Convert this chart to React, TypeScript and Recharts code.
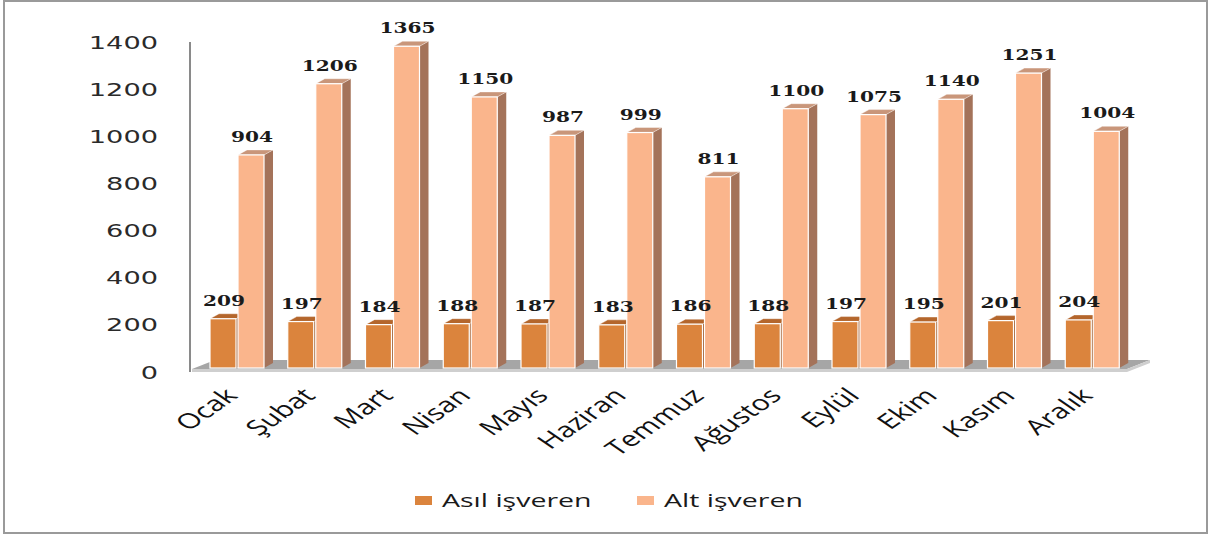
import React from 'react';
import * as R from 'recharts';
import { BarChart, Bar, XAxis, YAxis, LabelList, Legend, Customized } from 'recharts';

// Monthly worker counts by employer type
const months = ['Ocak', 'Şubat', 'Mart', 'Nisan', 'Mayıs', 'Haziran', 'Temmuz', 'Ağustos', 'Eylül', 'Ekim', 'Kasım', 'Aralık'];
const asilIsveren = [209, 197, 184, 188, 187, 183, 186, 188, 197, 195, 201, 204];
const altIsveren = [904, 1206, 1365, 1150, 987, 999, 811, 1100, 1075, 1140, 1251, 1004];
const yTicks = [0, 200, 400, 600, 800, 1000, 1200, 1400];
const seriesNames = ['Asıl işveren', 'Alt işveren'];

const data = months.map((m, i) => ({ month: m, asil: asilIsveren[i], alt: altIsveren[i] }));

const W = 1209;
const H = 535;
const MARGIN = { top: 38, right: 78, bottom: 19, left: 138 };
const Y_AXIS_W = 60;
const X_AXIS_H = 118;
const LEGEND_H = 30;

const DEPTH_X = 9;
const DEPTH_Y = 5;

const palette = {
  asil: { front: '#db843d', top: '#b4662c', side: '#9c5626' },
  alt: { front: '#fab58c', top: '#c9967a', side: '#a4735a' },
};

type Colors = { front: string; top: string; side: string };

const makeBox = (c: Colors) => (props: any) => {
  const { x, y, width, height } = props;
  if (width == null || height == null || height <= 0) return <g />;
  const x2 = x + width;
  const yb = y + height;
  return (
    <g>
      <polygon
        points={`${x2},${y} ${x2 + DEPTH_X},${y - DEPTH_Y} ${x2 + DEPTH_X},${yb - DEPTH_Y} ${x2},${yb}`}
        fill={c.side}
      />
      <polygon
        points={`${x},${y} ${x + DEPTH_X},${y - DEPTH_Y} ${x2 + DEPTH_X},${y - DEPTH_Y} ${x2},${y}`}
        fill={c.top}
        stroke="#ffffff"
        strokeOpacity={0.5}
        strokeWidth={0.8}
      />
      <rect x={x} y={y} width={width} height={height} fill={c.front} stroke="#ffffff" strokeWidth={1.2} />
    </g>
  );
};

const ValueLabel = (props: any) => {
  const { x, y, width, value } = props;
  const cx = x + width / 2 + 1;
  return (
    <text
      transform={`translate(${cx},${y - 13}) scale(1.3,1)`}
      textAnchor="middle"
      fontFamily="'DejaVu Serif', serif"
      fontWeight="bold"
      fontSize={15.5}
      fill="#1a1a1a"
    >
      {value}
    </text>
  );
};

const YTick = (props: any) => {
  const { x, y, payload } = props;
  return (
    <text
      transform={`translate(${x - 40},${y + 4.5}) scale(1.6,1)`}
      textAnchor="end"
      dy="0.36em"
      fontFamily="'DejaVu Sans', sans-serif"
      fontSize={17}
      fill="#2a2a2a"
    >
      {payload.value}
    </text>
  );
};

const XTick = (props: any) => {
  const { x, y, payload } = props;
  return (
    <text
      transform={`translate(${x + 2},${y + 29}) scale(1.45,1) rotate(-45)`}
      textAnchor="end"
      fontFamily="'Open Sans', sans-serif"
      fontSize={21}
      fill="#111111"
    >
      {payload.value}
    </text>
  );
};

// Floor slab and left axis line drawn from the plot area
const FloorAndAxis = () => {
  const usePA = (R as any).usePlotArea;
  const pa = usePA ? usePA() : null;
  const left = pa ? pa.x : MARGIN.left + Y_AXIS_W;
  const top = pa ? pa.y : MARGIN.top;
  const right = pa ? pa.x + pa.width : W - MARGIN.right;
  const bottom = pa ? pa.y + pa.height : H - MARGIN.bottom - LEGEND_H - X_AXIS_H;
  const fl = left - 6;
  const fr = right - 4;
  const fy = bottom + 1;
  const dx = 23;
  const dy = 9;
  return (
    <g>
      <polygon points={`${fl},${fy} ${fl + dx},${fy - dy} ${fr + dx},${fy - dy} ${fr},${fy}`} fill="#a6a6a6" />
      <polygon
        points={`${fl},${fy} ${fr},${fy} ${fr + dx},${fy - dy} ${fr + dx},${fy - dy + 3} ${fr},${fy + 3} ${fl},${fy + 3}`}
        fill="#cfcfcf"
      />
      <line x1={left - 8} y1={top + 4} x2={left - 8} y2={bottom + 4} stroke="#8a8a8a" strokeWidth={2} />
    </g>
  );
};

const LegendContent = (props: any) => {
  const payload = props.payload || [];
  const items = seriesNames
    .map((n) => payload.find((p: any) => p.value === n))
    .filter(Boolean);
  const offsets = [415, 637];
  return (
    <svg width={W} height={LEGEND_H} style={{ display: 'block' }}>
      {items.map((it: any, i: number) => (
        <g key={i}>
          <rect x={offsets[i]} y={10} width={17} height={9} fill={it.color} />
          <text
            transform={`translate(${offsets[i] + 27},${21}) scale(1.5,1)`}
            fontFamily="'Open Sans', sans-serif"
            fontSize={19}
            fill="#1a1a1a"
          >
            {it.value}
          </text>
        </g>
      ))}
    </svg>
  );
};

export default function App() {
  return (
    <div style={{ position: 'absolute', left: 0, top: 0, width: W, height: H, background: '#ffffff' }}>
      <div
        style={{
          position: 'absolute',
          left: 3,
          top: 0,
          width: W - 8,
          height: H - 5,
          border: '2px solid #9a9a9a',
          boxSizing: 'content-box',
        }}
      />
      <div style={{ position: 'absolute', left: 0, top: 0 }}>
        <BarChart width={W} height={H} data={data} margin={MARGIN} barSize={26} barGap={2}>
          <Customized component={<FloorAndAxis />} />
          <XAxis
            dataKey="month"
            height={X_AXIS_H}
            axisLine={false}
            tickLine={false}
            tickSize={0}
            tickMargin={0}
            interval={0}
            tick={<XTick />}
          />
          <YAxis
            width={Y_AXIS_W}
            domain={[0, 1400]}
            ticks={yTicks}
            axisLine={false}
            tickLine={false}
            tickSize={0}
            tickMargin={0}
            tick={<YTick />}
          />
          <Legend
            verticalAlign="bottom"
            height={LEGEND_H}
            wrapperStyle={{ left: 0, width: W }}
            content={<LegendContent />}
          />
          <Bar dataKey="asil" name={seriesNames[0]} fill={palette.asil.front} shape={makeBox(palette.asil)} isAnimationActive={false}>
            <LabelList dataKey="asil" content={<ValueLabel />} />
          </Bar>
          <Bar dataKey="alt" name={seriesNames[1]} fill={palette.alt.front} shape={makeBox(palette.alt)} isAnimationActive={false}>
            <LabelList dataKey="alt" content={<ValueLabel />} />
          </Bar>
        </BarChart>
      </div>
    </div>
  );
}
